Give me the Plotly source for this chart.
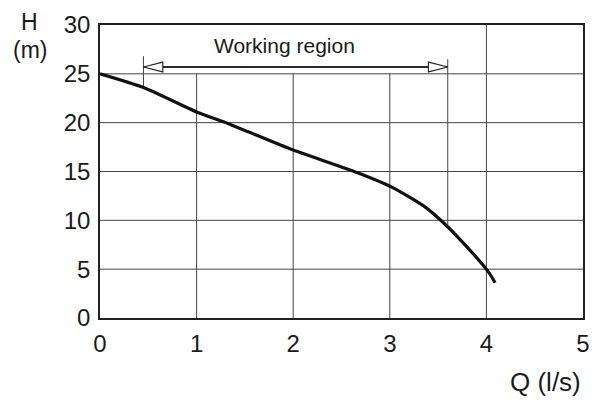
import numpy as np
import plotly.graph_objects as go

# Pump curve data
Q = [0, 0.45, 1.0, 1.33, 2.0, 2.66, 3.02, 3.36, 3.55, 3.76, 4.03, 4.09]
H = [25, 23.6, 21.1, 19.9, 17.2, 14.9, 13.4, 11.4, 9.8, 7.7, 4.6, 3.6]

# Working region bounds
WORK_LO = 0.45
WORK_HI = 3.6
WORK_Y = 25.7
WORK_TOP = 26.5
WORK_LABEL = "Working region"

x_ticks = [0, 1, 2, 3, 4, 5]
y_ticks = [0, 5, 10, 15, 20, 25, 30]
# vertical grid lines inside the working-region band stop at H = 25
x_grid_top = {1: 25, 2: 25, 3: 25, 4: 30}

FONT = "Liberation Sans, Arial, sans-serif"
INK = "#1a1a1a"
GRID = "#45424a"

fig = go.Figure()

# Grid lines as traces
for xv in x_ticks[1:-1]:
    fig.add_trace(go.Scatter(x=[xv, xv], y=[0, x_grid_top[xv]], mode="lines",
                             line=dict(color=GRID, width=1), hoverinfo="skip", showlegend=False))
for yv in y_ticks[1:-1]:
    fig.add_trace(go.Scatter(x=[0, 5], y=[yv, yv], mode="lines",
                             line=dict(color=GRID, width=1), hoverinfo="skip", showlegend=False))

# Working region bound lines (from top down to curve)
h_lo = float(np.interp(WORK_LO, Q, H))
h_hi = float(np.interp(WORK_HI, Q, H))
fig.add_trace(go.Scatter(x=[WORK_LO, WORK_LO], y=[WORK_TOP + 0.3, h_lo], mode="lines",
                         line=dict(color=GRID, width=1), hoverinfo="skip", showlegend=False))
fig.add_trace(go.Scatter(x=[WORK_HI, WORK_HI], y=[WORK_TOP, h_hi], mode="lines",
                         line=dict(color=GRID, width=1), hoverinfo="skip", showlegend=False))

# Arrow shaft
fig.add_trace(go.Scatter(x=[WORK_LO, WORK_HI], y=[WORK_Y, WORK_Y], mode="lines",
                         line=dict(color="#2a2a2a", width=1.8), hoverinfo="skip", showlegend=False))
# Open arrow heads
head_len = 0.2
head_h = 0.5
fig.add_trace(go.Scatter(x=[WORK_LO, WORK_LO + head_len, WORK_LO + head_len, WORK_LO],
                         y=[WORK_Y, WORK_Y + head_h, WORK_Y - head_h, WORK_Y],
                         mode="lines", fill="toself", fillcolor="white",
                         line=dict(color="#2a2a2a", width=1.2), hoverinfo="skip", showlegend=False))
fig.add_trace(go.Scatter(x=[WORK_HI, WORK_HI - head_len, WORK_HI - head_len, WORK_HI],
                         y=[WORK_Y, WORK_Y + head_h, WORK_Y - head_h, WORK_Y],
                         mode="lines", fill="toself", fillcolor="white",
                         line=dict(color="#2a2a2a", width=1.2), hoverinfo="skip", showlegend=False))

# Pump curve
fig.add_trace(go.Scatter(x=Q, y=H, mode="lines",
                         line=dict(color="#111111", width=3.2, shape="spline", smoothing=0.6),
                         showlegend=False))

fig.add_annotation(x=(WORK_LO + WORK_HI) / 2 - 0.12, y=27.9, text=WORK_LABEL, showarrow=False,
                   font=dict(family=FONT, size=21, color=INK), xref="x", yref="y")

# Axis titles
fig.add_annotation(x=-0.145, y=1.01, xref="paper", yref="paper", text="H", showarrow=False,
                   font=dict(family=FONT, size=23, color=INK), xanchor="center", yanchor="middle")
fig.add_annotation(x=-0.145, y=0.915, xref="paper", yref="paper", text="(m)", showarrow=False,
                   font=dict(family=FONT, size=23, color=INK), xanchor="center", yanchor="middle")
fig.add_annotation(x=1.0, y=-0.22, xref="paper", yref="paper", text="Q (l/s)", showarrow=False,
                   font=dict(family=FONT, size=26, color=INK), xanchor="right", yanchor="middle")

fig.update_xaxes(range=[0, 5], tickvals=x_ticks, showgrid=False, zeroline=False,
                 showline=True, linecolor="#222222", linewidth=1.5, mirror=True,
                 ticks="", tickfont=dict(family=FONT, size=24, color=INK),
                 ticklabelstandoff=3, automargin=False)
fig.update_yaxes(range=[0, 30], tickvals=y_ticks, showgrid=False, zeroline=False,
                 showline=True, linecolor="#222222", linewidth=1.5, mirror=True,
                 ticks="", tickfont=dict(family=FONT, size=24, color=INK),
                 ticklabelstandoff=3, automargin=False)

fig.update_layout(width=596, height=410, margin=dict(l=100, r=13, t=25, b=92),
                  paper_bgcolor="white", plot_bgcolor="white", showlegend=False)

fig.write_html("out.html", config={"displayModeBar": False},
               post_script="document.body.style.margin='0';")
